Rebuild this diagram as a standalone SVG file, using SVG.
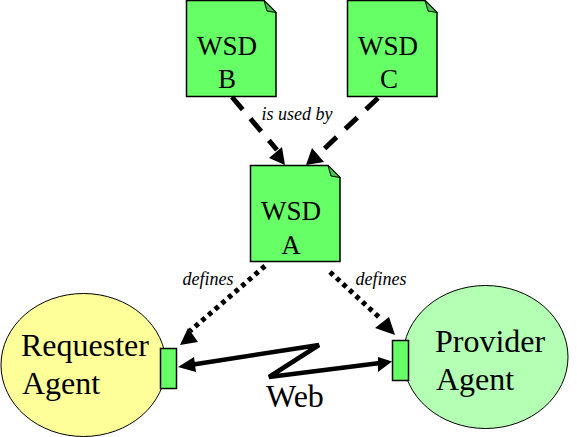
<svg xmlns="http://www.w3.org/2000/svg" width="577" height="437" viewBox="0 0 577 437">
<style>
text{font-family:"Liberation Serif","Times New Roman",serif;fill:#000}
.doc{fill:#66ff66;stroke:#000;stroke-width:1.500}
.fold{fill:#4fbf4f;stroke:#000;stroke-width:1}
.t{font-size:27px;text-anchor:middle}
.a{font-size:32px}
.l{font-size:18px;font-style:italic;text-anchor:middle;font-weight:normal}
.port{fill:#66ff66;stroke:#000;stroke-width:1.500}
.dash{fill:none;stroke:#000;stroke-width:5;stroke-dasharray:16.500 12}
.dot{fill:none;stroke:#000;stroke-width:5;stroke-dasharray:4.500 4.300}
.web{fill:none;stroke:#000;stroke-width:4.500}
</style>
<defs>
<g id="doc"><path class="doc" d="M0.500 0.500H78L90 12.500V96.500H0.500Z"/><path class="fold" d="M78 0.500L90 12.500L81 11Z"/></g>
</defs>
<g id="requester"><ellipse cx="83.500" cy="365" rx="82.500" ry="71.500" fill="#ffff99" stroke="#000" stroke-width="1"/><text class="a" x="21" y="356">Requester</text><text class="a" x="22" y="394">Agent</text></g>
<g id="provider"><ellipse cx="485.500" cy="357" rx="82.500" ry="71.500" fill="#b3ffb3" stroke="#000" stroke-width="1"/><text class="a" x="435" y="352">Provider</text><text class="a" x="436" y="390">Agent</text></g>
<g id="wsdB"><use href="#doc" x="186" y="0"/><text class="t" x="227" y="55">WSD</text><text class="t" x="227" y="88">B</text></g>
<g id="wsdC"><use href="#doc" x="347" y="0"/><text class="t" x="388" y="55">WSD</text><text class="t" x="389" y="88">C</text></g>
<g id="wsdA"><use href="#doc" x="250" y="165"/><text class="t" x="291" y="220">WSD</text><text class="t" x="291" y="254">A</text></g>
<g id="portL"><rect class="port" x="160.500" y="348.500" width="16" height="40"/></g>
<g id="portR"><rect class="port" x="392.500" y="340.500" width="16" height="40"/></g>
<g id="connectors">
<path class="dash" d="M232 97L277 150"/><path d="M285 165L269 158L282 147Z"/>
<path class="dash" d="M378 98L322 151"/><path d="M306 165L312 148L324 162Z"/>
<path class="dot" d="M265 266L190 331"/><path d="M180 345L188 328L198 342Z"/>
<path class="dot" d="M330 272L381 319"/><path d="M395 335L375 328L389 317Z"/>
<path class="web" d="M190 365L319 345L269 377L380 363"/><path d="M178 367L194 357L196 372Z"/><path d="M392 361.500L378 372L378 357Z"/>
</g>
<g id="labels">
<text class="l" x="297" y="120">is used by</text>
<text class="l" x="208" y="285">defines</text>
<text class="l" x="381" y="285">defines</text>
<text x="266" y="407" font-size="32">Web</text>
</g>
</svg>
